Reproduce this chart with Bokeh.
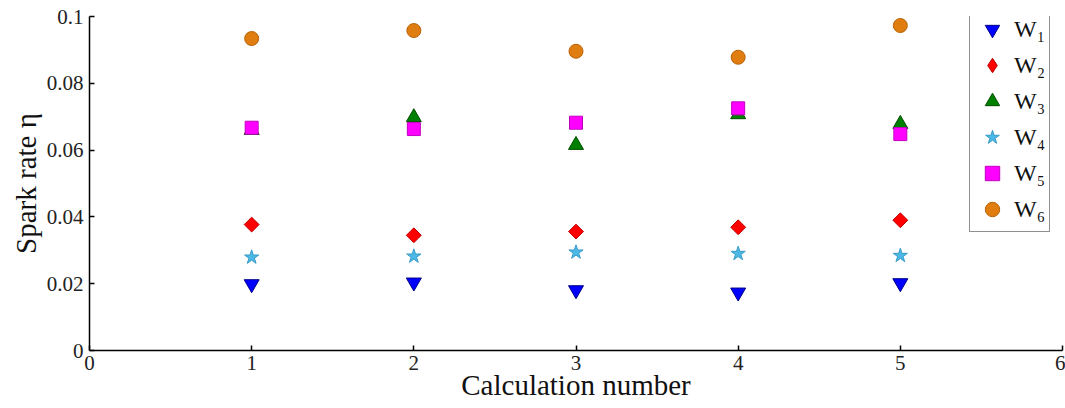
import math
from bokeh.plotting import figure
from bokeh.models import FixedTicker, CustomJSTickFormatter, Legend, LegendItem, Range1d
from bokeh.embed import file_html
from bokeh.resources import INLINE

calc = [1, 2, 3, 4, 5]
w1 = [0.0199, 0.0204, 0.0181, 0.0174, 0.0202]
w2 = [0.0377, 0.0345, 0.0356, 0.0369, 0.0390]
w3 = [0.0660, 0.0698, 0.0615, 0.0707, 0.0678]
w4 = [0.0279, 0.0282, 0.0294, 0.0290, 0.0284]
w5 = [0.0667, 0.0663, 0.0682, 0.0725, 0.0648]
w6 = [0.0934, 0.0958, 0.0896, 0.0878, 0.0973]
labels = ["W\u2081", "W\u2082", "W\u2083", "W\u2084", "W\u2085", "W\u2086"]
x_ticks = [0, 1, 2, 3, 4, 5, 6]
y_ticks = [0, 0.02, 0.04, 0.06, 0.08, 0.1]

FONT = "Liberation Serif"

p = figure(width=1065, height=408, output_backend="svg", toolbar_location=None,
           x_range=Range1d(0, 6), y_range=Range1d(0, 0.1),
           min_border_left=89, min_border_right=3, min_border_top=16, min_border_bottom=58)
p.outline_line_color = None
p.xgrid.visible = False
p.ygrid.visible = False
p.background_fill_color = "white"

series = [
    (w1, "inverted_triangle", "#0000ff", "#00008a", 15, 0),
    (w2, "square", "#ff0000", "#c00000", 10.5, math.pi / 4),
    (w3, "triangle", "#008000", "#004d00", 15, 0),
    (w4, "star", "#4cb8e6", "#3a9cc8", 15, 0),
    (w5, "square", "#ff00ff", "#c000c0", 13, 0),
    (w6, "circle", "#e07d10", "#b86208", 14, 0),
]
items = []
for (ys, marker, fc, lc, sz, ang), lab in zip(series, labels):
    leg_r = None
    if ang:
        # upright diamond (used as the legend key), hidden under the rotated square
        leg_r = p.scatter(calc, ys, marker="diamond", size=13, fill_color=fc,
                          line_color=lc, line_width=1)
    r = p.scatter(calc, ys, marker=marker, size=sz, angle=ang, fill_color=fc,
                  line_color=lc, line_width=1)
    items.append(LegendItem(label=lab, renderers=[leg_r or r]))

legend = Legend(items=items, location=(880, 118), glyph_width=36, glyph_height=36,
                label_height=36, spacing=0, padding=4, margin=0, label_standoff=4,
                label_text_font=FONT, label_text_font_size="24px",
                label_text_color="#111111",
                border_line_color="#222222", border_line_width=1.5,
                background_fill_color="white", background_fill_alpha=1.0)
p.add_layout(legend, "center")

for ax in (p.xaxis[0], p.yaxis[0]):
    ax.major_tick_in = 5
    ax.major_tick_out = 0
    ax.minor_tick_line_color = None
    ax.axis_line_color = "black"
    ax.axis_line_width = 1.5
    ax.major_tick_line_width = 1.5
    ax.major_label_text_font = FONT
    ax.major_label_text_font_size = "21px"
    ax.major_label_text_color = "#222222"
    ax.axis_label_text_font = FONT
    ax.axis_label_text_font_size = "29px"
    ax.axis_label_text_font_style = "normal"
    ax.axis_label_text_color = "#111111"

p.xaxis.ticker = FixedTicker(ticks=x_ticks)
p.yaxis.ticker = FixedTicker(ticks=y_ticks)
p.yaxis.formatter = CustomJSTickFormatter(
    code="return tick.toFixed(2).replace(/0+$/, '').replace(/\\.$/, '');")
p.xaxis.axis_label = "Calculation number"
p.yaxis.axis_label = "Spark rate \u03b7"
p.xaxis.major_label_standoff = 5
p.yaxis.major_label_standoff = 6
p.xaxis.axis_label_standoff = -4
p.yaxis.axis_label_standoff = 2

open("out.html", "w").write(file_html(p, INLINE))
